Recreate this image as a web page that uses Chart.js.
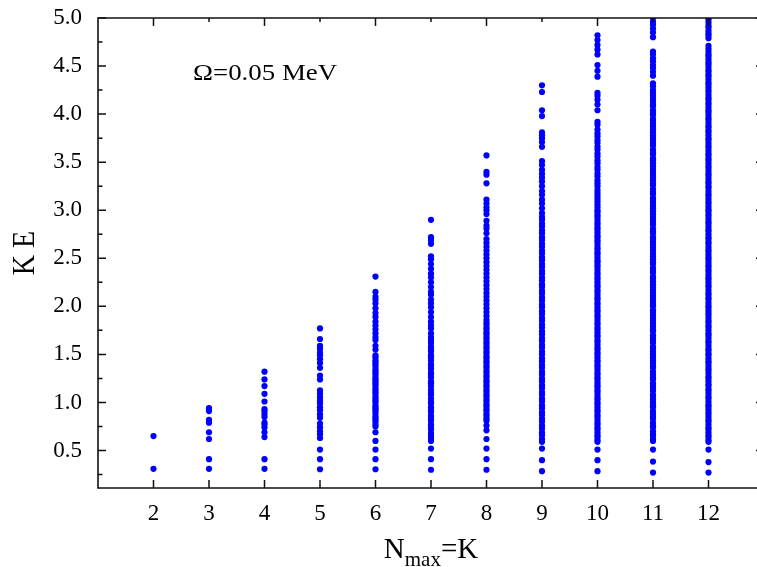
<!DOCTYPE html>
<html>
<head>
<meta charset="utf-8">
<script src="https://cdn.jsdelivr.net/npm/chart.js@4.4.1/dist/chart.umd.min.js"></script>
<style>
html,body{margin:0;padding:0;background:#fff;overflow:hidden;}
#wrap{width:775px;height:567px;}
</style>
</head>
<body>
<div id="wrap"><canvas id="c" width="775" height="567" style="width:775px;height:567px"></canvas></div>
<script>
// ---- data ----
const categories = [2,3,4,5,6,7,8,9,10,11,12];

const k2 = [0.31,0.65];
const k3 = [0.31,0.41,0.62,0.69,0.79,0.82,0.91,0.94];
const k4 = [0.31,0.41,0.64,0.69,0.74,0.77,0.79,0.85,0.88,0.91,0.93,1.01,1.09,1.17,1.24,1.32];
const k5 = [0.305,0.41,0.51,0.63,0.67,0.70,0.74,0.78,0.84,0.875,0.92,0.95,0.99,1.02,1.055,1.09,1.125,1.24,1.28,1.36,1.41,1.45,1.49,1.52,1.56,1.59,1.66,1.77];
const k6 = [0.305,0.41,0.51,0.60,0.69,
  0.75,0.77,0.80,0.82,0.84,0.86,0.89,0.91,0.93,0.95,0.97,1.00,1.02,1.04,1.06,1.09,1.11,1.13,1.15,1.18,1.20,1.22,1.24,1.26,1.29,1.31,1.33,1.35,1.38,1.40,1.42,1.44,1.47,1.49,
  1.55,1.59,1.65,1.68,1.72,1.76,1.80,1.84,1.89,1.93,1.98,2.03,2.07,2.10,2.15,2.31];
const k7 = [0.30,0.41,0.52,0.60,
  0.62,0.65,0.68,0.72,0.74,0.77,0.81,0.83,0.86,0.90,0.92,0.95,0.99,1.01,1.04,1.08,1.10,1.13,1.17,1.20,1.22,1.26,1.29,1.31,1.35,1.38,1.40,1.44,1.47,1.49,1.53,1.56,1.58,1.62,1.65,
  1.68,1.72,1.77,1.80,1.84,1.89,1.94,1.99,2.03,2.07,2.12,2.15,2.20,2.25,2.30,2.34,2.39,2.44,2.49,2.52,2.65,2.69,2.72,2.90];
const k8 = [0.30,0.41,0.52,0.62,0.71,0.76,
  0.81,0.83,0.86,0.88,0.91,0.93,0.96,0.98,1.01,1.03,1.06,1.08,1.11,1.13,1.16,1.18,1.21,1.23,1.26,1.28,1.31,1.33,1.36,1.38,1.41,1.43,1.46,1.48,1.51,1.53,1.56,1.58,1.61,1.63,1.66,1.68,1.71,1.73,1.76,1.78,1.81,1.83,1.86,
  1.90,1.94,1.98,2.02,2.06,2.10,2.14,2.18,2.22,2.26,2.30,2.34,2.38,2.42,2.46,2.50,2.54,2.58,2.62,2.66,2.70,
  2.76,2.81,2.84,2.89,2.96,3.00,3.03,3.07,3.11,3.28,3.37,3.40,3.57];
const k9 = [0.285,0.40,0.52,
  0.59,0.62,0.66,0.69,0.73,0.76,0.80,0.83,0.87,0.90,0.94,0.97,1.01,1.04,1.08,1.11,1.15,1.18,1.22,1.25,1.29,1.32,1.36,1.39,1.43,1.46,1.50,1.53,1.57,1.60,1.64,1.67,1.71,1.74,1.78,1.81,1.85,1.88,1.92,1.95,1.99,2.02,2.06,2.09,2.13,2.16,2.20,2.23,2.27,2.30,2.34,2.37,2.41,2.44,2.48,2.51,2.55,2.58,2.62,2.65,2.69,2.72,2.76,2.79,2.83,2.86,2.90,2.93,2.97,
  3.02,3.07,3.11,3.16,3.20,3.25,3.30,3.34,3.38,3.42,3.47,3.51,3.66,3.71,3.75,3.78,3.81,3.98,4.04,4.23,4.30];
const k10 = [0.285,0.40,0.51,
  0.59,0.61,0.64,0.66,0.69,0.72,0.74,0.77,0.79,0.82,0.85,0.87,0.90,0.92,0.95,0.98,1.00,1.03,1.05,1.08,1.11,1.13,1.16,1.18,1.21,1.24,1.26,1.29,1.31,1.34,1.37,1.39,1.42,1.44,1.47,1.50,1.52,1.55,1.57,1.60,1.63,1.65,1.68,1.70,1.73,1.76,1.78,1.81,1.83,1.86,1.89,1.91,1.94,1.96,1.99,
  2.02,2.04,2.07,2.09,2.12,2.15,2.17,2.20,2.22,2.25,2.28,2.30,2.33,2.35,2.38,2.41,2.43,2.46,2.48,2.51,2.54,2.56,2.59,2.61,2.64,2.67,2.69,2.72,2.74,2.77,2.80,2.82,2.85,2.87,2.90,2.93,2.95,2.98,
  3.00,3.03,3.06,3.09,3.12,3.15,3.18,3.21,3.25,3.28,3.31,3.35,3.38,3.42,3.45,3.49,3.52,3.56,3.59,3.63,3.66,3.70,3.73,3.77,3.80,3.84,
  3.89,3.92,4.04,4.10,4.15,4.19,4.22,4.39,4.45,4.51,4.62,4.67,4.72,4.77,4.82];
const k11 = [0.27,0.385,0.51,
  0.60,0.62,0.65,0.67,0.70,0.74,0.76,0.79,0.83,0.85,0.88,0.91,0.95,0.97,1.00,1.03,1.06,1.08,1.12,1.15,1.17,1.20,1.24,1.26,1.29,1.32,1.36,1.38,1.41,1.44,1.47,1.50,1.53,1.56,1.58,1.62,1.65,1.67,1.70,1.74,1.76,1.79,1.82,1.85,1.88,1.91,1.94,1.96,
  2.00,2.02,2.05,2.08,2.11,2.14,2.17,2.20,2.23,2.26,2.29,2.31,2.35,2.37,2.40,2.44,2.46,2.49,2.52,2.55,2.58,2.61,2.64,2.67,2.70,2.72,2.76,2.78,2.81,2.85,2.87,2.90,2.93,2.96,2.99,
  3.02,3.05,3.08,3.11,3.13,3.17,3.19,3.22,3.26,3.28,3.31,3.34,3.37,3.40,3.43,3.46,3.49,3.52,3.54,3.58,3.60,3.63,3.67,3.69,3.72,3.75,3.78,3.81,3.84,3.87,3.90,3.93,3.95,3.99,
  4.01,4.04,4.08,4.10,4.13,4.16,4.19,4.22,4.25,4.29,4.32,
  4.40,4.44,4.48,4.51,4.55,4.58,4.62,4.65,4.80,4.85,4.89,4.93,4.96,5.00];
const k12 = [0.27,0.38,0.51,
  0.59,0.61,0.64,0.66,0.69,0.72,0.74,0.77,0.80,0.82,0.85,0.88,0.90,0.93,0.96,0.98,1.01,1.04,1.06,1.09,1.12,1.14,1.17,1.19,1.22,1.25,1.27,1.30,1.33,1.35,1.38,1.41,1.43,1.46,1.49,1.51,1.54,1.56,1.59,1.62,1.64,1.67,1.70,1.72,1.75,1.78,1.80,1.83,1.85,1.88,1.91,1.93,1.96,1.99,
  2.01,2.04,2.07,2.09,2.12,2.14,2.17,2.20,2.22,2.25,2.28,2.30,2.33,2.36,2.38,2.41,2.43,2.46,2.49,2.51,2.54,2.57,2.59,2.62,2.65,2.67,2.70,2.72,2.75,2.78,2.80,2.83,2.86,2.88,2.91,2.94,2.96,2.99,
  3.01,3.04,3.07,3.09,3.12,3.15,3.17,3.20,3.23,3.25,3.28,3.30,3.33,3.36,3.38,3.41,3.44,3.46,3.49,3.52,3.54,3.57,3.59,3.62,3.65,3.67,3.70,3.73,3.75,3.78,3.81,3.83,3.86,3.88,3.91,3.94,3.96,3.99,
  4.02,4.04,4.07,4.10,4.12,4.15,4.17,4.20,4.23,4.25,4.28,4.31,4.33,4.36,4.39,4.41,4.44,4.46,4.49,4.52,4.54,4.57,4.60,4.62,4.65,4.68,4.71,
  4.79,4.82,4.84,4.87,4.90,4.92,4.95,4.98,5.00];

const seriesValues = [k2,k3,k4,k5,k6,k7,k8,k9,k10,k11,k12];

const xTickLabels = [2,3,4,5,6,7,8,9,10,11,12];
const xTopMajor = [2,4,6,8,10,12];
const xTopMinor = [3,5,7,9,11];
const yTickLabels = [0.5,1.0,1.5,2.0,2.5,3.0,3.5,4.0,4.5,5.0];
const yMinorTicks = [0.25,0.75,1.25,1.75,2.25,2.75,3.25,3.75,4.25,4.75];

const xTitleMain = 'N', xTitleSub = 'max', xTitleTail = '=K';
const yTitle = 'K E';
const annotation = '\u03A9=0.05 MeV';

// ---- build points ----
const points = [];
categories.forEach((k, i) => seriesValues[i].forEach(v => points.push({x: k, y: v})));

const SERIF = '"Liberation Serif", "DejaVu Serif", serif';
const AXIS = '#111';

const framePlugin = {
  id: 'frame',
  afterDatasetsDraw(chart) {
    const ctx = chart.ctx, a = chart.chartArea;
    const xs = chart.scales.x, ys = chart.scales.y;
    ctx.save();
    ctx.strokeStyle = AXIS;
    ctx.lineWidth = 1.6;
    ctx.lineCap = 'butt';
    ctx.beginPath();
    ctx.moveTo(a.left, a.top); ctx.lineTo(a.left, a.bottom);
    ctx.moveTo(a.left - 0.8, a.bottom); ctx.lineTo(a.right, a.bottom);
    ctx.moveTo(a.left - 0.8, a.top); ctx.lineTo(a.right, a.top);
    ctx.moveTo(a.right, a.top); ctx.lineTo(a.right, a.bottom);
    ctx.stroke();
    ctx.lineWidth = 1.5;
    ctx.beginPath();
    yTickLabels.forEach(v => {
      const y = ys.getPixelForValue(v);
      ctx.moveTo(a.left, y); ctx.lineTo(a.left + 8, y);
      ctx.moveTo(a.right, y); ctx.lineTo(a.right - 8, y);
    });
    yMinorTicks.forEach(v => {
      const y = ys.getPixelForValue(v);
      ctx.moveTo(a.left, y); ctx.lineTo(a.left + 4.5, y);
      ctx.moveTo(a.right, y); ctx.lineTo(a.right - 4.5, y);
    });
    xTickLabels.forEach(v => {
      const x = xs.getPixelForValue(v);
      ctx.moveTo(x, a.bottom); ctx.lineTo(x, a.bottom - 8);
    });
    xTopMajor.forEach(v => {
      const x = xs.getPixelForValue(v);
      ctx.moveTo(x, a.top); ctx.lineTo(x, a.top + 8);
    });
    xTopMinor.forEach(v => {
      const x = xs.getPixelForValue(v);
      ctx.moveTo(x, a.top); ctx.lineTo(x, a.top + 4);
    });
    ctx.stroke();

    // texts
    ctx.fillStyle = '#000';
    ctx.textBaseline = 'alphabetic';
    // annotation
    ctx.save();
    ctx.translate(193, 80);
    ctx.scale(1.12, 1);
    ctx.font = '24px ' + SERIF;
    ctx.textAlign = 'left';
    ctx.fillText(annotation, 0, 0);
    ctx.restore();

    // x title with subscript
    const cx = (a.left + a.right) / 2;
    ctx.font = '29px ' + SERIF;
    const wN = ctx.measureText(xTitleMain).width;
    const wT = ctx.measureText(xTitleTail).width;
    ctx.font = '21px ' + SERIF;
    const wS = ctx.measureText(xTitleSub).width;
    let x0 = cx - (wN + wS + wT) / 2;
    ctx.textAlign = 'left';
    ctx.font = '29px ' + SERIF;
    ctx.fillText(xTitleMain, x0, 558);
    ctx.font = '21px ' + SERIF;
    ctx.fillText(xTitleSub, x0 + wN, 566);
    ctx.font = '29px ' + SERIF;
    ctx.fillText(xTitleTail, x0 + wN + wS, 558);

    // y title rotated
    ctx.save();
    ctx.translate(26, (a.top + a.bottom) / 2);
    ctx.rotate(-Math.PI / 2);
    ctx.scale(1, 1.12);
    ctx.font = '28px ' + SERIF;
    ctx.textAlign = 'center';
    ctx.textBaseline = 'middle';
    ctx.fillText(yTitle, 0, 0);
    ctx.restore();
    ctx.restore();
  }
};

new Chart(document.getElementById('c'), {
  type: 'scatter',
  data: {
    datasets: [{
      data: points,
      pointRadius: 3.1,
      pointHoverRadius: 3.1,
      pointBorderWidth: 0,
      backgroundColor: '#0000ff',
      borderColor: '#0000ff',
      clip: 0
    }]
  },
  options: {
    responsive: false,
    animation: false,
    devicePixelRatio: 1,
    events: [],
    layout: { padding: { top: 18, right: 11, left: 0, bottom: 0 } },
    plugins: { legend: { display: false }, tooltip: { enabled: false } },
    scales: {
      x: {
        type: 'linear', min: 1, max: 13,
        afterBuildTicks: s => { s.ticks = xTickLabels.map(v => ({ value: v })); },
        afterFit: s => { s.height = 79; s.paddingLeft = 0; s.paddingRight = 0; s.paddingTop = 0; s.paddingBottom = 0; },
        grid: { display: false, drawTicks: false },
        border: { display: false },
        ticks: { color: '#000', font: { family: SERIF, size: 23 }, padding: 12, maxRotation: 0, autoSkip: false }
      },
      y: {
        type: 'linear', min: 0.11, max: 5.0,
        afterBuildTicks: s => { s.ticks = yTickLabels.map(v => ({ value: v })); },
        afterFit: s => { s.width = 98; s.paddingTop = 0; s.paddingBottom = 0; s.paddingLeft = 0; s.paddingRight = 0; },
        grid: { display: false, drawTicks: false },
        border: { display: false },
        ticks: { color: '#000', font: { family: SERIF, size: 23 }, padding: 16, autoSkip: false,
          callback: v => Number(v).toFixed(1) }
      }
    }
  },
  plugins: [framePlugin]
});
</script>
</body>
</html>
